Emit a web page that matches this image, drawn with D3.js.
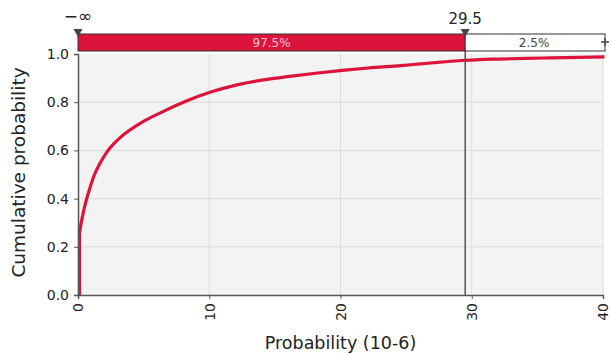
<!DOCTYPE html>
<html><head><meta charset="utf-8">
<script src="https://cdn.jsdelivr.net/npm/d3@7"></script>
<style>body{margin:0;background:#fff}svg{display:block}text{font-family:Tahoma,"DejaVu Sans",Verdana,sans-serif}</style>
</head><body><svg id="c" width="611" height="354"></svg>
<script>
const xVals = [0, 0, 0.1, 0.3, 0.5, 0.8, 1.13, 1.5, 2.07, 2.6, 3.1, 4.75, 6.2, 8.05, 10, 12, 14.3, 16, 18, 20.2, 22, 24.5, 26, 27.5, 29.1, 30.5, 32, 34, 36, 38, 40];
const yVals = [0, 0.257, 0.29, 0.345, 0.39, 0.445, 0.498, 0.54, 0.592, 0.627, 0.653, 0.716, 0.757, 0.803, 0.842, 0.872, 0.895, 0.907, 0.92, 0.933, 0.942, 0.952, 0.959, 0.966, 0.973, 0.977, 0.979, 0.982, 0.984, 0.986, 0.988];
const xTicks = [0, 10, 20, 30, 40];
const yTicks = [0.0, 0.2, 0.4, 0.6, 0.8, 1.0];
const lowerLabel = "−∞", upperValue = 29.5;
const pctIn = "97.5%", pctOut = "2.5%";

const svg = d3.select("#c");
const m = {l: 78, r: 603, t: 54, b: 295};
const x = d3.scaleLinear().domain([0, 40]).range([m.l, m.r]);
const y = d3.scaleLinear().domain([0, 1]).range([m.b, m.t]);
const red = "#dc143c";

svg.append("rect").attr("x", m.l).attr("y", m.t).attr("width", m.r - m.l).attr("height", m.b - m.t).attr("fill", "#f3f3f3");
// grid
svg.append("g").selectAll("line").data(yTicks.filter(d => d > 0 && d < 1)).join("line")
  .attr("x1", m.l).attr("x2", m.r).attr("y1", d => y(d)).attr("y2", d => y(d)).attr("stroke", "#dcdcdc").attr("stroke-width", 1);
svg.append("g").selectAll("line").data(xTicks.filter(d => d > 0)).join("line")
  .attr("y1", m.t).attr("y2", m.b).attr("x1", d => x(d)).attr("x2", d => x(d)).attr("stroke", "#dcdcdc").attr("stroke-width", 1);

// curve: vertical jump at 0, then smooth rise
const pts = xVals.map((d, i) => [d, yVals[i]]);
const lineV = d3.line().x(d => x(d[0]) + 1.5).y(d => y(d[1]));
const lineS = d3.line().x(d => x(d[0]) + 1.5).y(d => y(d[1])).curve(d3.curveMonotoneX);
svg.append("path").datum(pts.slice(0, 2)).attr("fill", "none").attr("stroke", red).attr("stroke-width", 3.2).attr("d", lineV);
svg.append("path").datum(pts.slice(1)).attr("fill", "none").attr("stroke", red).attr("stroke-width", 3.2)
  .attr("stroke-linejoin", "round").attr("d", lineS);

// axes
const gy = svg.append("g").attr("transform", `translate(${m.l},0)`)
  .call(d3.axisLeft(y).tickValues(yTicks).tickFormat(d3.format(".1f")).tickSize(4).tickPadding(5));
const gx = svg.append("g").attr("transform", `translate(0,${m.b})`)
  .call(d3.axisBottom(x).tickValues(xTicks).tickSize(4).tickPadding(4));
[gy, gx].forEach(g => {
  g.select(".domain").attr("stroke", "#555").attr("stroke-width", 1.5);
  g.selectAll(".tick line").attr("stroke", "#555");
  g.selectAll("text").attr("fill", "#222").style("font-size", "14px").style("font-family", 'Tahoma,"DejaVu Sans",sans-serif');
});
gx.selectAll("text").attr("transform", "rotate(-90)").attr("text-anchor", "end")
  .attr("x", -8).attr("y", 0).attr("dy", "0.35em");

// marker line
svg.append("line").attr("x1", x(upperValue)).attr("x2", x(upperValue)).attr("y1", 36).attr("y2", m.b)
  .attr("stroke", "#555").attr("stroke-width", 1.5);

// band
const bT = 34, bH = 17;
svg.append("rect").attr("x", m.l).attr("y", bT).attr("width", x(upperValue) - m.l).attr("height", bH)
  .attr("fill", red).attr("stroke", "#333").attr("stroke-width", 1);
svg.append("rect").attr("x", x(upperValue)).attr("y", bT).attr("width", m.r + 2 - x(upperValue)).attr("height", bH)
  .attr("fill", "#fff").attr("stroke", "#333").attr("stroke-width", 1);
svg.append("text").attr("x", (m.l + x(upperValue)) / 2).attr("y", bT + bH / 2).attr("dy", "0.36em")
  .attr("text-anchor", "middle").attr("fill", "#f5c4cf").style("font-size", "12px").text(pctIn);
svg.append("text").attr("x", (x(upperValue) + m.r) / 2).attr("y", bT + bH / 2).attr("dy", "0.36em")
  .attr("text-anchor", "middle").attr("fill", "#444").style("font-size", "12px").text(pctOut);

// triangles
[m.l, x(upperValue)].forEach(px => {
  svg.append("path").attr("d", `M${px - 4.5},${bT - 5}L${px + 4.5},${bT - 5}L${px},${bT + 3}Z`).attr("fill", "#444");
});
// plus at right end
const pr = m.r + 2;
svg.append("path").attr("d", `M${pr - 4},${bT + 8}H${pr + 4}M${pr},${bT + 4}V${bT + 12}`).attr("stroke", "#444").attr("stroke-width", 1.3);

svg.append("text").attr("x", m.l).attr("y", 22).attr("text-anchor", "middle").attr("fill", "#222").style("font-size", "17px").text(lowerLabel);
svg.append("text").attr("x", x(upperValue)).attr("y", 24).attr("text-anchor", "middle").attr("fill", "#222").style("font-size", "15px").text(String(upperValue));

// titles
svg.append("text").attr("x", (m.l + m.r) / 2).attr("y", 349).attr("text-anchor", "middle").attr("fill", "#222").style("font-size", "17.5px").text("Probability (10-6)");
svg.append("text").attr("transform", `translate(25,${(m.t + m.b) / 2 - 2}) rotate(-90)`).attr("text-anchor", "middle").attr("fill", "#222").style("font-size", "18.5px").text("Cumulative probability");
</script></body></html>
